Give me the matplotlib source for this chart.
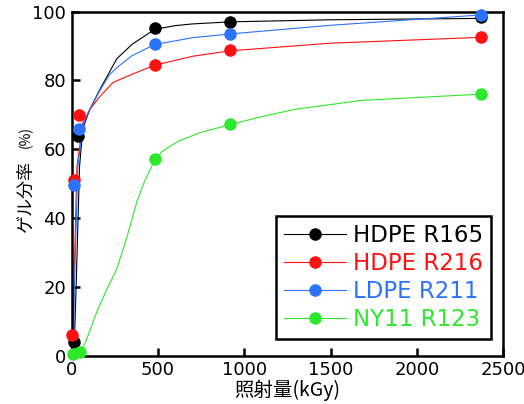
import matplotlib.pyplot as plt

plt.rcParams['font.family'] = ['DejaVu Sans', 'Noto Sans CJK JP']

# measured points (dose in kGy, gel fraction in %)
hdpe165_x = [15, 35, 480, 920, 2370]
hdpe165_y = [4, 64, 95.2, 96.9, 98.3]
hdpe216_x = [0, 15, 40, 480, 920, 2370]
hdpe216_y = [6, 51, 70, 84.6, 88.8, 92.5]
ldpe211_x = [15, 40, 480, 920, 2370]
ldpe211_y = [49.7, 66, 90.6, 93.6, 99]
ny11_x = [5, 45, 480, 920, 2370]
ny11_y = [0.5, 1.2, 57.2, 67.2, 76]

# fitted curves
fit165_x = [15, 25, 45, 64, 104, 162, 261, 350, 480, 600, 700, 920, 1500, 2370]
fit165_y = [4, 20, 55, 66, 71.5, 77.3, 86.3, 90.5, 94.8, 95.9, 96.4, 97, 97.6, 98]
fit216_x = [5, 12, 30, 64, 104, 162, 239, 350, 480, 700, 920, 1500, 2370]
fit216_y = [6, 20, 55, 67.7, 71.5, 75.3, 79.4, 81.8, 84.4, 87, 88.6, 90.8, 92.5]
fit211_x = [10, 15, 35, 64, 104, 162, 220, 261, 350, 480, 700, 920, 1500, 2370]
fit211_y = [0, 20, 55, 67, 71.5, 77, 81.7, 83.7, 87.2, 90.4, 92.4, 93.5, 96, 99]
fit123_x = [10, 40, 80, 145, 200, 261, 320, 377, 420, 480, 520, 551, 620, 742,
            920, 1102, 1294, 1682, 2370]
fit123_y = [0, 0.8, 4, 12.8, 19, 25.3, 34.5, 44.8, 50.5, 56.8, 59.2, 60.3, 62.4, 64.8,
            67.2, 69.5, 71.6, 74.2, 76]

labels = ['HDPE R165', 'HDPE R216', 'LDPE R211', 'NY11 R123']
colors = ['#000000', '#FF1010', '#2B73FF', '#2EE82E']

cjk = ['Noto Sans CJK JP', 'DejaVu Sans']

fig = plt.figure(figsize=(5.24, 4.04), dpi=100)
ax = fig.add_axes([0.137, 0.119, 0.823, 0.8525])

series = [
    (fit165_x, fit165_y, hdpe165_x, hdpe165_y),
    (fit216_x, fit216_y, hdpe216_x, hdpe216_y),
    (fit211_x, fit211_y, ldpe211_x, ldpe211_y),
    (fit123_x, fit123_y, ny11_x, ny11_y),
]
handles = []
for (fx, fy, px, py), c, lab in zip(series, colors, labels):
    ax.plot(fx, fy, color=c, lw=0.8, clip_on=False)
    ax.plot(px, py, 'o', color=c, ms=8, clip_on=False, zorder=3)
    h, = ax.plot([], [], '-o', color=c, lw=0.8, ms=8, label=lab)
    handles.append(h)

ax.set_xlim(0, 2500)
ax.set_ylim(0, 100)
ax.set_xticks([0, 500, 1000, 1500, 2000, 2500])
ax.set_yticks([0, 20, 40, 60, 80, 100])
ax.tick_params(direction='in', length=6, width=1.8, labelsize=13, pad=4)
for s in ax.spines.values():
    s.set_linewidth(1.8)

ax.set_xlabel('照射量(kGy)', fontsize=14, family=cjk, labelpad=0)
ax.text(-0.107, 0.462, 'ゲル分率', rotation=90, ha='center', va='center', fontsize=13,
        family=cjk, transform=ax.transAxes)
ax.text(-0.107, 0.637, '(%)', rotation=90, ha='center', va='center', fontsize=10,
        family=cjk, transform=ax.transAxes)

leg = ax.legend(handles=handles, loc='lower right', bbox_to_anchor=(0.972, 0.049),
                borderaxespad=0, labelspacing=0.22, handlelength=2.7,
                handletextpad=0.3, borderpad=0.35, fancybox=False, edgecolor='black',
                framealpha=1, prop={'family': ['DejaVu Sans'], 'size': 16.5})
leg.get_frame().set_linewidth(1.8)
for t, c in zip(leg.get_texts(), colors):
    t.set_color(c)

fig.savefig('out.png', dpi=100)
